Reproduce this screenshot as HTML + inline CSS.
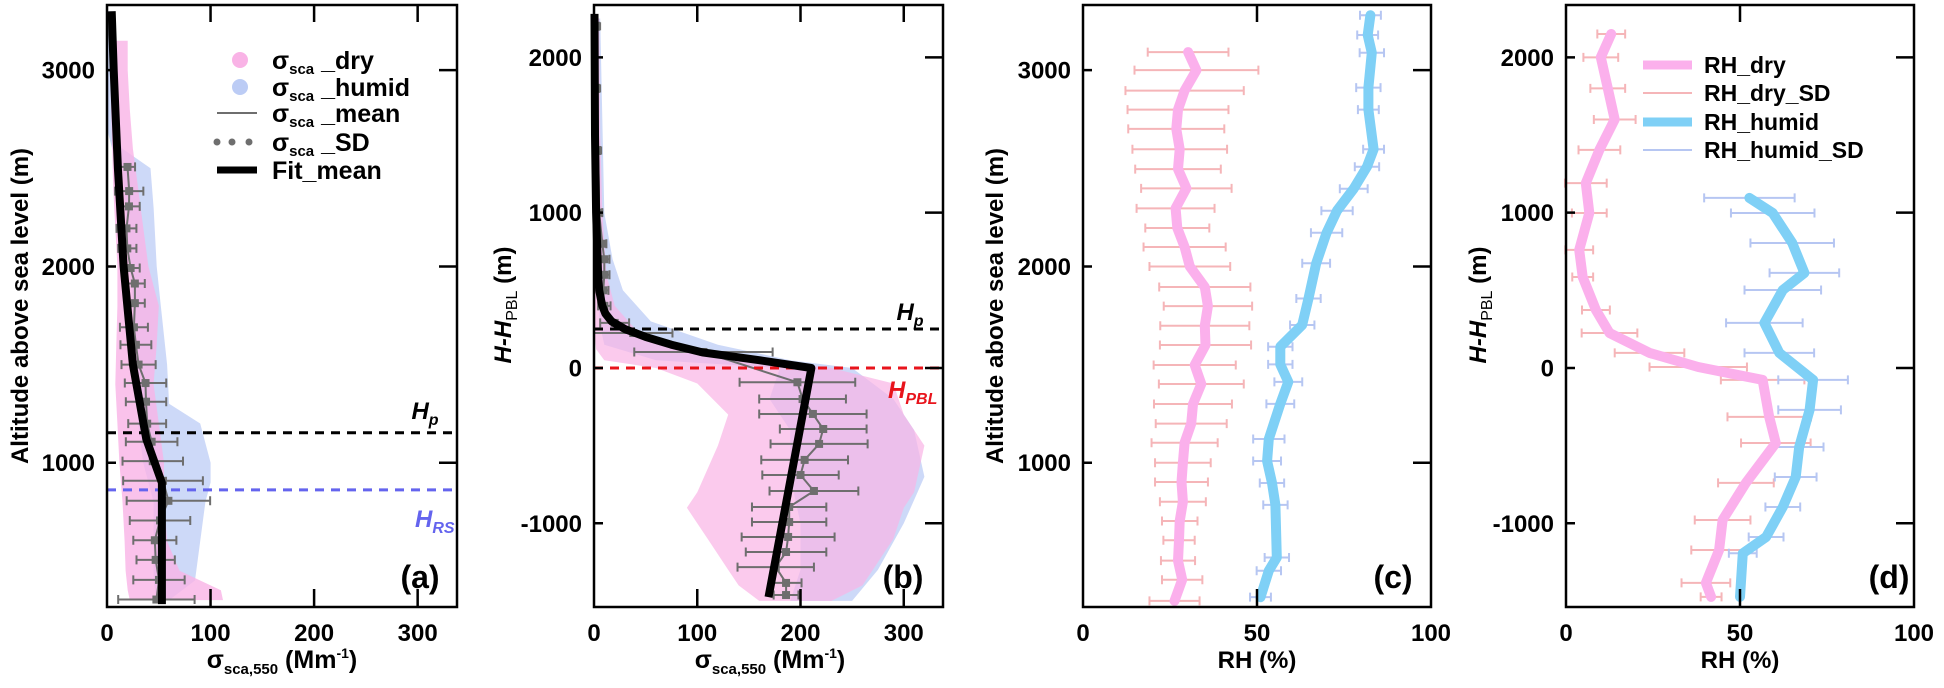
<!DOCTYPE html>
<html><head><meta charset="utf-8"><title>Aerosol scattering and RH profiles</title>
<style>
html,body{margin:0;padding:0;background:#fff;}
svg{display:block;font-family:"Liberation Sans",Arial,sans-serif;font-weight:bold;}
</style></head>
<body>
<svg id="fig" xmlns="http://www.w3.org/2000/svg" width="1944" height="688" viewBox="0 0 1944 688">
<rect width="1944" height="688" fill="#fff"/>
<g id="layer"></g>
</svg>
<script>
// ---------------- DATA ----------------
// Panel (a): scatter envelopes
const aDryAlt = [3150,3000,2800,2600,2400,2200,2000,1800,1600,1400,1200,1000,800,600,450,350,300];
const aDryLo  = [3,3,4,5,6,8,10,10,9,8,10,12,15,17,18,20,22];
const aDryHi  = [20,20,22,25,30,35,40,50,48,45,50,55,55,58,70,110,112];
const aHumAlt = [3300,3000,2700,2600,2500,2300,2000,1800,1500,1300,1200,1000,900,800,600,400,300];
const aHumLo  = [0,0,0,5,15,18,22,25,25,30,30,35,40,45,45,45,48];
const aHumHi  = [5,6,8,15,42,45,48,52,58,60,90,100,100,95,90,85,60];
// Panel (a): mean and SD
const aMeanAlt = [2507,2384,2306,2194,2092,1992,1913,1813,1690,1601,1500,1406,1311,1199,1107,1008,908,806,706,605,505,403,303];
const aMean    = [19.8,21.4,21.2,18.8,19.6,22.8,26.9,26.9,26,27.9,30.5,37.2,37.7,38.8,43.1,44.2,54.1,59.3,51.2,46.2,47,50.2,47.7];
const aSD      = [7.3,13.7,10.4,9.6,8.8,8.8,9.6,9.6,13.5,14.9,16.5,20,19.5,18.3,24.9,29.2,38.5,40.3,29.2,20.8,18.5,24.8,36.9];
const aFitAlt = [3300,3000,2500,2000,1500,1120,898,280];
const aFit    = [4.5,6.5,10.5,16,25,38,53,53];
const aHp = 1153, aHRS = 862;
// Panel (b)
const bDryAlt = [2250,1500,1000,600,400,250,120,50,0,-100,-300,-500,-800,-900,-1100,-1300,-1400,-1500];
const bDryLo  = [0,0,0,0,0,0,2,10,60,100,130,120,100,90,110,130,140,160];
const bDryHi  = [5,6,8,12,20,40,80,160,230,290,300,320,310,300,290,270,260,230];
const bHumAlt = [2250,1000,700,500,300,150,50,0,-200,-400,-700,-1000,-1300,-1500];
const bHumLo  = [1,2,3,5,5,10,60,180,170,190,190,200,200,190];
const bHumHi  = [6,10,18,28,55,120,190,250,290,310,320,300,275,250];
const bMeanAlt = [2200,1800,1400,1000,800,700,600,500,400,290,225,103,-92,-200,-296,-393,-489,-592,-689,-792,-895,-992,-1088,-1185,-1282,-1384,-1462];
const bMean    = [3,3,4,5,8,10,10,9,10,20,38,106,197,202,212,222,218,204,200,213,189,189,188,186,176,186,186];
const bSD      = [2,2,2,3,4,5,5,5,6,14,38,67,56,42,52,42,47,42,37,43,36,36,45,39,37,15,12];
const bFitAlt = [2280,1500,1000,800,600,500,450,400,350,300,250,200,150,100,50,0,-1475];
const bFit    = [0.5,1,2,3,4,5,6.5,8,11,17,30,50,75,105,160,210.5,169];
const bHp = 251, bHPBL = 0;
// Panel (c): RH vs altitude
const cDryAlt = [3092,3000,2896,2799,2701,2597,2496,2398,2296,2196,2099,2000,1895,1798,1698,1600,1498,1401,1299,1199,1102,1000,902,801,703,605,501,404,296];
const cDry    = [30.2,32.6,29.2,27.3,26.8,27.8,27.3,29.7,26.6,27.1,29.2,30.7,35,35.9,35,35.2,32.1,34,31.6,31.1,29.2,28.7,28.3,28.7,27.8,27.6,27.3,28.5,26.3];
const cDrySD  = [11.6,17.8,17,14.5,13.8,13.6,12.3,13,11.2,9.2,11.8,11.6,13.1,12.7,12.8,13.1,11.8,12.2,11.2,10.2,9.5,8,7.6,6.6,5.1,4.5,4.9,5.8,7.2];
const cHumAlt = [3280,3179,3089,2911,2799,2597,2508,2396,2284,2172,2016,1837,1702,1591,1501,1412,1300,1121,1009,897,785,517,450,315];
const cHum    = [82.6,81.8,83,82,82,83.5,81.6,77.8,73,70,67,64.8,63,56.7,56.7,59,56.7,53.4,52.9,54.3,55.3,55.7,53.4,51];
const cHumSD  = [3,3,3.5,3.5,3,3,3.5,4,4.5,4.5,4,3.5,3.5,3.5,3.5,4,4,4.5,4,3.5,3.5,3.5,3.5,3];
// Panel (d): RH vs H-HPBL
const dDryAlt = [2150,2000,1800,1600,1404,1190,998,760,586,373,225,97,6,-77,-315,-483,-740,-979,-1172,-1384,-1474];
const dDry    = [13,10,12,14,9.6,5.7,6.7,3.8,4.8,8.6,12.5,24,38,56.5,58.4,60.3,51.7,45,44,40.2,41.7];
const dDrySD  = [4,5,5,6,6,6,5,4,3,4,8,10,14,12,12,10,8,8,8,7,3];
const dHumAlt = [1095,998,805,612,502,290,97,-77,-270,-509,-702,-895,-1088,-1193,-1474];
const dHum    = [52.7,59.4,65,68.5,62.3,57,61.3,71,70,67,66,62.3,57.5,50.8,50];
const dHumSD  = [13,12,12,10,11,11,10,10,9,7,6,5,5,4,0];
// tick labels
const sigmaTicks = [0,100,200,300];
const altTicksA = [1000,2000,3000];
const altTicksB = [-1000,0,1000,2000];
const rhTicks = [0,50,100];

// ---------------- SCALES ----------------
const NS = "http://www.w3.org/2000/svg";
const layer = document.getElementById('layer');
const TOP = 5, BOT = 607;
const PA = {x0:107,x1:457,xmin:0,xmax:338,ymin:265,ymax:3332};
const PB = {x0:594,x1:943,xmin:0,xmax:338,ymin:-1539,ymax:2337};
const PC = {x0:1083,x1:1431,xmin:0,xmax:100,ymin:265,ymax:3332};
const PD = {x0:1566,x1:1914,xmin:0,xmax:100,ymin:-1539,ymax:2337};
function sx(p,v){return p.x0+(v-p.xmin)/(p.xmax-p.xmin)*(p.x1-p.x0);}
function sy(p,v){return BOT-(v-p.ymin)/(p.ymax-p.ymin)*(BOT-TOP);}
function mk(tag,attrs,parent){const e=document.createElementNS(NS,tag);for(const k in attrs)e.setAttribute(k,attrs[k]);(parent||layer).appendChild(e);return e;}

function envelope(p,alts,lo,hi,color,op,name,parent){
  const pts=[];
  for(let i=0;i<alts.length;i++)pts.push(sx(p,lo[i]).toFixed(1)+','+sy(p,alts[i]).toFixed(1));
  for(let i=alts.length-1;i>=0;i--)pts.push(sx(p,hi[i]).toFixed(1)+','+sy(p,alts[i]).toFixed(1));
  const e=mk('polygon',{points:pts.join(' '),fill:color,'fill-opacity':op},parent);
  
  
}
function line(p,alts,xs,color,w,name,parent,extra){
  const pts=alts.map((a,i)=>sx(p,xs[i]).toFixed(1)+','+sy(p,a).toFixed(1)).join(' ');
  const e=mk('polyline',Object.assign({points:pts,fill:'none',stroke:color,'stroke-width':w,'stroke-linejoin':'round','stroke-linecap':'round'},extra||{}),parent);
  
  
}
function errbars(p,alts,m,sd,color,w,name,parent){
  const g=mk('g',{stroke:color,'stroke-width':w,fill:'none'},parent);
  
  
  for(let i=0;i<alts.length;i++){
    if(sd[i]<=0)continue;
    const y=sy(p,alts[i]),a=sx(p,m[i]-sd[i]),b=sx(p,m[i]+sd[i]);
    const bar=mk('path',{d:`M${a},${y}H${b}M${a},${y-4.5}V${y+4.5}M${b},${y-4.5}V${y+4.5}`},g);
    
    
  }
}
function points(p,alts,xs,color,r,name,parent){
  const g=mk('g',{fill:color},parent);
  
  
  for(let i=0;i<alts.length;i++){
    const c=mk('rect',{x:sx(p,xs[i])-r,y:sy(p,alts[i])-r,width:2*r,height:2*r},g);
    
    
  }
}
function hline(p,v,color,name,parent){
  const y=sy(p,v);
  const e=mk('line',{x1:p.x0,x2:p.x1,y1:y,y2:y,stroke:color,'stroke-width':3,'stroke-dasharray':'9,7'},parent);
  
  
}
function text(x,y,str,attrs,name,parent){
  const e=mk('text',Object.assign({x:x,y:y},attrs||{}),parent);
  e.textContent=str;
  
  
  return e;
}
function axes(p,xt,yt,key,parent){
  const g=mk('g',{},parent);
  
  
  const fr=mk('rect',{x:p.x0,y:TOP,width:p.x1-p.x0,height:BOT-TOP,fill:'none',stroke:'#000','stroke-width':2.5},g);
  
  
  xt.forEach(v=>{
    const x=sx(p,v);
    if(x>p.x0+2&&x<p.x1-2){
      const t=mk('path',{d:`M${x},${BOT}v-18M${x},${TOP}v17`,stroke:'#000','stroke-width':2.5},g);
      
      
    }
    text(x,641,String(v),{'text-anchor':'middle','font-size':24},'x-tick-label',g);
  });
  yt.forEach(v=>{
    const y=sy(p,v);
    const t=mk('path',{d:`M${p.x0},${y}h9M${p.x1},${y}h-18`,stroke:'#000','stroke-width':2.5},g);
    
    
    text(p.x0-12,y+8.5,String(v),{'text-anchor':'end','font-size':24},'y-tick-label',g);
  });
}

const PINK='#f9b3e6', BLUE='#bcccf5', GRAY='#6e6e6e';
// ---------------- PANEL A ----------------
const ga=mk('g',{});  
envelope(PA,aHumAlt,aHumLo,aHumHi,BLUE,0.75,'scatter-humid',ga);
envelope(PA,aDryAlt,aDryLo,aDryHi,PINK,0.8,'scatter-dry',ga);
errbars(PA,aMeanAlt,aMean,aSD,GRAY,2,'sd-error-bars',ga);
line(PA,aMeanAlt,aMean,GRAY,2,'mean-line',ga);
points(PA,aMeanAlt,aMean,GRAY,4,'mean-points',ga);
hline(PA,aHp,'#000','hp-line',ga);
hline(PA,aHRS,'#6464ee','hrs-line',ga);
line(PA,aFitAlt,aFit,'#000',8,'fit-mean-line',ga,{'stroke-linecap':'butt'});
axes(PA,sigmaTicks,altTicksA,'a',ga);
{const t=text(425,419,'H',{'font-size':24,'font-style':'italic','text-anchor':'middle'},'hp-label',ga);
 const s=mk('tspan',{'font-size':16,dy:6},t); s.textContent='p';}
{const t=text(415,527,'H',{'font-size':24,'font-style':'italic','text-anchor':'start',fill:'#6464ee'},'hrs-label',ga);
 const s=mk('tspan',{'font-size':16,dy:6},t); s.textContent='RS';}
text(420,588,'(a)',{'font-size':32,'text-anchor':'middle'},'panel-label-a',ga);
// legend a
const la=mk('g',{});  
const legRows=[60,87,113,142,170];
const legLab=['_dry','_humid','_mean','_SD'];
mk('circle',{cx:240,cy:60,r:8,fill:PINK},la);
mk('circle',{cx:240,cy:87,r:8,fill:BLUE},la);
mk('line',{x1:217,x2:257,y1:113,y2:113,stroke:GRAY,'stroke-width':2},la);
[217,232,249].forEach(x=>mk('circle',{cx:x,cy:142,r:3.5,fill:GRAY},la));
mk('line',{x1:217,x2:257,y1:170,y2:170,stroke:'#000','stroke-width':7},la);
legLab.forEach((l,i)=>{
  const t=text(272,legRows[i]+9,'σ',{'font-size':25},'legend-entry',la);
  const s=mk('tspan',{'font-size':15,dy:5},t); s.textContent='sca';
  const s2=mk('tspan',{'font-size':25,dy:-5},t); s2.textContent=' '+l;
});
text(272,179,'Fit_mean',{'font-size':25},'legend-entry',la);
{const t=text(282,668,'σ',{'font-size':25,'text-anchor':'middle'},'x-axis-title-a',ga);
 const s=mk('tspan',{'font-size':15,dy:6},t); s.textContent='sca,550';
 const s2=mk('tspan',{'font-size':25,dy:-6},t); s2.textContent=' (Mm';
 const s3=mk('tspan',{'font-size':14,dy:-10},t); s3.textContent='-1';
 const s4=mk('tspan',{'font-size':25,dy:10},t); s4.textContent=')';}
text(0,0,'Altitude above sea level (m)',{'font-size':24,'text-anchor':'middle',transform:'translate(28,306) rotate(-90)'},'y-axis-title-a',ga);

// ---------------- PANEL B ----------------
const gb=mk('g',{});  
envelope(PB,bHumAlt,bHumLo,bHumHi,BLUE,0.75,'scatter-humid',gb);
envelope(PB,bDryAlt,bDryLo,bDryHi,PINK,0.7,'scatter-dry',gb);
errbars(PB,bMeanAlt,bMean,bSD,GRAY,2,'sd-error-bars',gb);
line(PB,bMeanAlt,bMean,GRAY,2,'mean-line',gb);
points(PB,bMeanAlt,bMean,GRAY,4,'mean-points',gb);
hline(PB,bHp,'#000','hp-line',gb);
hline(PB,bHPBL,'#e8141c','hpbl-line',gb);
line(PB,bFitAlt,bFit,'#000',8,'fit-mean-line',gb,{'stroke-linecap':'butt'});
axes(PB,sigmaTicks,altTicksB,'b',gb);
{const t=text(910,320,'H',{'font-size':24,'font-style':'italic','text-anchor':'middle'},'hp-label',gb);
 const s=mk('tspan',{'font-size':16,dy:6},t); s.textContent='p';}
{const t=text(888,398,'H',{'font-size':24,'font-style':'italic',fill:'#e8141c'},'hpbl-label',gb);
 const s=mk('tspan',{'font-size':16,dy:6},t); s.textContent='PBL';}
text(903,588,'(b)',{'font-size':32,'text-anchor':'middle'},'panel-label-b',gb);
{const t=text(770,668,'σ',{'font-size':25,'text-anchor':'middle'},'x-axis-title-b',gb);
 const s=mk('tspan',{'font-size':15,dy:6},t); s.textContent='sca,550';
 const s2=mk('tspan',{'font-size':25,dy:-6},t); s2.textContent=' (Mm';
 const s3=mk('tspan',{'font-size':14,dy:-10},t); s3.textContent='-1';
 const s4=mk('tspan',{'font-size':25,dy:10},t); s4.textContent=')';}
{const t=text(0,0,'H-H',{'font-size':24,'font-style':'italic','text-anchor':'middle',transform:'translate(511,305) rotate(-90)'},'y-axis-title-b',gb);
 const s=mk('tspan',{'font-size':16,'font-style':'normal','font-weight':'normal',dy:6},t); s.textContent='PBL';
 const s2=mk('tspan',{'font-size':24,'font-style':'normal',dy:-6},t); s2.textContent=' (m)';}

// ---------------- PANEL C ----------------
const gc=mk('g',{});  
errbars(PC,cDryAlt,cDry,cDrySD,'#f5b5b8',2,'rh-dry-sd',gc);
errbars(PC,cHumAlt,cHum,cHumSD,'#b6c6f2',2,'rh-humid-sd',gc);
line(PC,cDryAlt,cDry,'#fbb0ec',10,'rh-dry-line',gc);
line(PC,cHumAlt,cHum,'#7fd0f6',10,'rh-humid-line',gc);
axes(PC,rhTicks,altTicksA,'c',gc);
text(1393,588,'(c)',{'font-size':32,'text-anchor':'middle'},'panel-label-c',gc);
text(1257,668,'RH (%)',{'font-size':24,'text-anchor':'middle'},'x-axis-title-c',gc);
text(0,0,'Altitude above sea level (m)',{'font-size':24,'text-anchor':'middle',transform:'translate(1003,306) rotate(-90)'},'y-axis-title-c',gc);

// ---------------- PANEL D ----------------
const gd=mk('g',{});  
errbars(PD,dDryAlt,dDry,dDrySD,'#f5b5b8',2,'rh-dry-sd',gd);
errbars(PD,dHumAlt,dHum,dHumSD,'#b6c6f2',2,'rh-humid-sd',gd);
line(PD,dDryAlt,dDry,'#fbb0ec',10,'rh-dry-line',gd);
line(PD,dHumAlt,dHum,'#7fd0f6',10,'rh-humid-line',gd);
axes(PD,rhTicks,altTicksB,'d',gd);
text(1889,588,'(d)',{'font-size':32,'text-anchor':'middle'},'panel-label-d',gd);
text(1740,668,'RH (%)',{'font-size':24,'text-anchor':'middle'},'x-axis-title-d',gd);
{const t=text(0,0,'H-H',{'font-size':24,'font-style':'italic','text-anchor':'middle',transform:'translate(1486,305) rotate(-90)'},'y-axis-title-d',gd);
 const s=mk('tspan',{'font-size':16,'font-style':'normal','font-weight':'normal',dy:6},t); s.textContent='PBL';
 const s2=mk('tspan',{'font-size':24,'font-style':'normal',dy:-6},t); s2.textContent=' (m)';}
// legend d
const ld=mk('g',{});  
const dLegY=[65,93,122,150];
const dLegTxt=['RH_dry','RH_dry_SD','RH_humid','RH_humid_SD'];
const dLegCol=['#fbb0ec','#f5b5b8','#7fd0f6','#b6c6f2'];
const dLegW=[9,2,9,2];
dLegTxt.forEach((s,i)=>{
  const l=mk('line',{x1:1643,x2:1692,y1:dLegY[i],y2:dLegY[i],stroke:dLegCol[i],'stroke-width':dLegW[i]},ld);
  
  
  text(1704,dLegY[i]+8,s,{'font-size':23},'legend-entry',ld);
});
</script>
</body></html>
